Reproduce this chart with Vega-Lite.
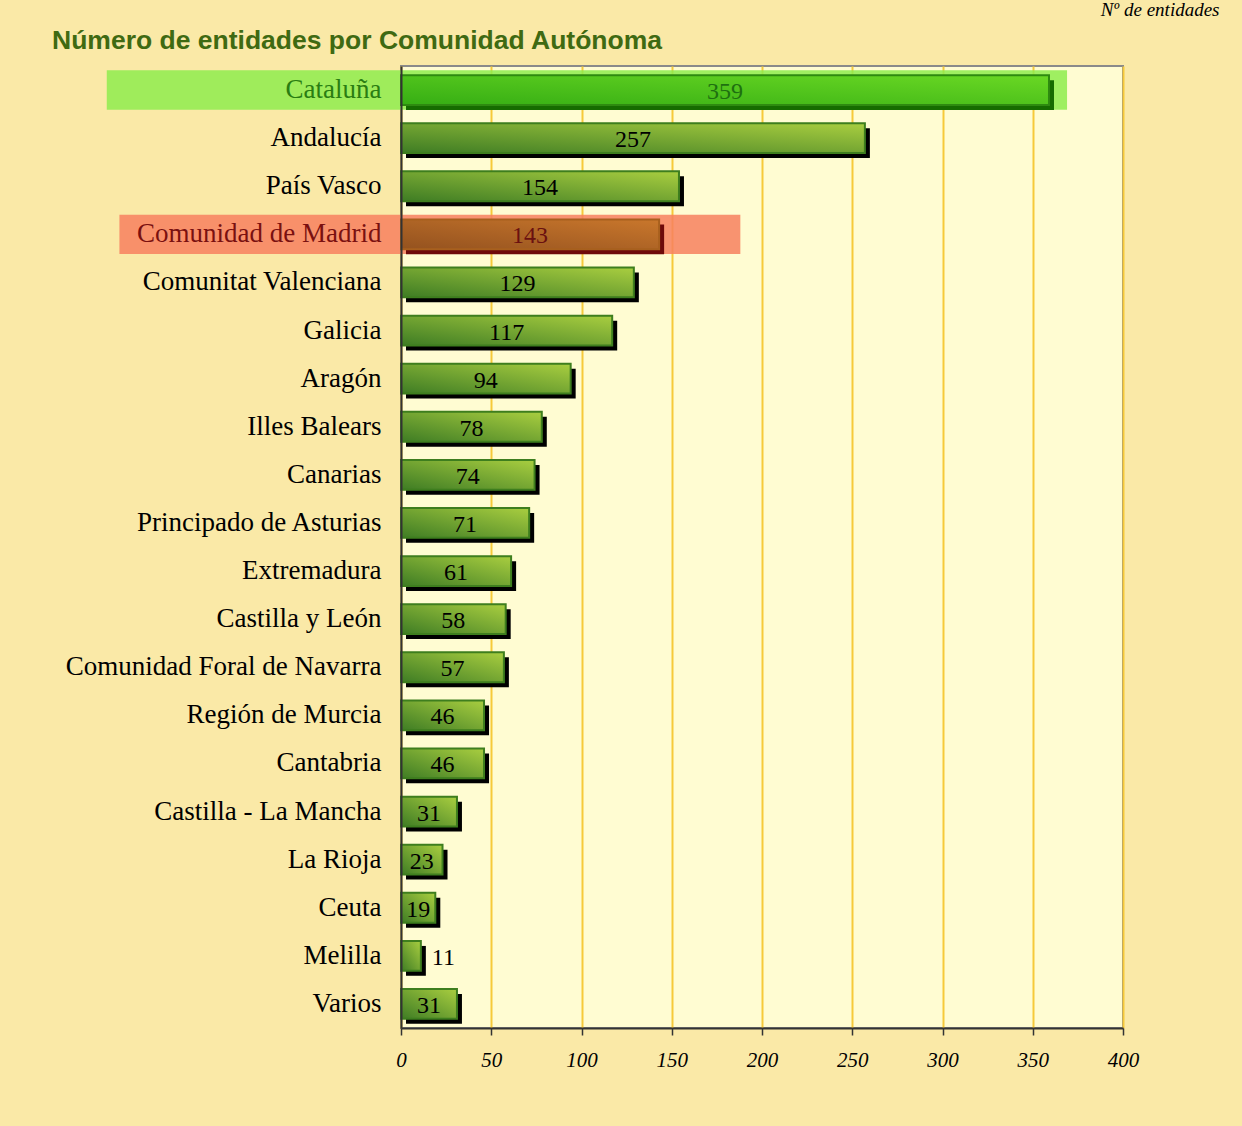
{
  "$schema": "https://vega.github.io/schema/vega-lite/v6.json",
  "autosize": {"type": "none"},
  "width": 722,
  "height": 962,
  "padding": {"left": 401, "top": 66, "right": 119, "bottom": 98},
  "background": "#fae9a7",
  "title": {
    "text": "Número de entidades por Comunidad Autónoma",
    "font": "Liberation Sans",
    "fontSize": 26.5,
    "fontWeight": "bold",
    "color": "#3f6a12",
    "anchor": "start",
    "frame": "group",
    "dx": -349,
    "dy": 93,
    "offset": 18,
    "baseline": "alphabetic"
  },
  "config": {
    "view": {"fill": "#fffcd2", "stroke": "#8a8a8a", "strokeWidth": 2},
    "axisX": {
      "labelFont": "Liberation Serif",
      "labelFontStyle": "italic",
      "labelFontSize": 21,
      "labelColor": "#000000",
      "labelPadding": 14,
      "labelFlush": false,
      "labelOverlap": false,
      "tickSize": 7,
      "tickColor": "#333333",
      "tickWidth": 1.5,
      "domainColor": "#333333",
      "domainWidth": 2,
      "grid": true,
      "gridColor": "#f6c93a",
      "gridWidth": 2,
      "gridOpacity": 1
    },
    "axisY": {
      "labelFont": "Liberation Serif",
      "labelFontSize": 27,
      "labelLimit": 0,
      "labelColor": {"expr": "datum.value === 'Cataluña' ? '#2a7d12' : datum.value === 'Comunidad de Madrid' ? '#7a1010' : '#000000'"},
      "labelPadding": 20,
      "ticks": false,
      "grid": false,
      "domainColor": "#333333",
      "domainWidth": 2,
      "titleFont": "Liberation Serif",
      "titleFontStyle": "italic",
      "titleFontWeight": "normal",
      "titleFontSize": 19,
      "titleColor": "#000000",
      "titleAngle": 0,
      "titleAlign": "right",
      "titleBaseline": "alphabetic",
      "titleX": 818,
      "titleY": -51
    }
  },
  "data": {
    "values": [
      {"name": "Cataluña", "value": 359},
      {"name": "Andalucía", "value": 257},
      {"name": "País Vasco", "value": 154},
      {"name": "Comunidad de Madrid", "value": 143},
      {"name": "Comunitat Valenciana", "value": 129},
      {"name": "Galicia", "value": 117},
      {"name": "Aragón", "value": 94},
      {"name": "Illes Balears", "value": 78},
      {"name": "Canarias", "value": 74},
      {"name": "Principado de Asturias", "value": 71},
      {"name": "Extremadura", "value": 61},
      {"name": "Castilla y León", "value": 58},
      {"name": "Comunidad Foral de Navarra", "value": 57},
      {"name": "Región de Murcia", "value": 46},
      {"name": "Cantabria", "value": 46},
      {"name": "Castilla - La Mancha", "value": 31},
      {"name": "La Rioja", "value": 23},
      {"name": "Ceuta", "value": 19},
      {"name": "Melilla", "value": 11},
      {"name": "Varios", "value": 31}
    ]
  },
  "encoding": {
    "y": {
      "field": "name",
      "type": "nominal",
      "sort": ["Cataluña", "Andalucía", "País Vasco", "Comunidad de Madrid", "Comunitat Valenciana", "Galicia", "Aragón", "Illes Balears", "Canarias", "Principado de Asturias", "Extremadura", "Castilla y León", "Comunidad Foral de Navarra", "Región de Murcia", "Cantabria", "Castilla - La Mancha", "La Rioja", "Ceuta", "Melilla", "Varios"],
      "scale": {"paddingInner": 0, "paddingOuter": 0},
      "title": "Nº de entidades",
      "axis": {"zindex": 2}
    }
  },
  "layer": [
    {
      "transform": [{"filter": "datum.name === 'Cataluña'"}],
      "mark": {"type": "bar", "height": {"band": 0.82}, "color": "#8eec4e", "opacity": 0.85},
      "encoding": {
        "x": {"datum": -163, "type": "quantitative", "scale": {"domain": [0, 400]}, "title": null, "axis": {"values": [0, 50, 100, 150, 200, 250, 300, 350, 400]}},
        "x2": {"datum": 369}
      }
    },
    {
      "transform": [{"filter": "datum.name === 'Comunidad de Madrid'"}],
      "mark": {"type": "bar", "height": {"band": 0.82}, "color": "#f7805f", "opacity": 0.85},
      "encoding": {
        "x": {"datum": -156, "type": "quantitative", "scale": {"domain": [0, 400]}, "title": null, "axis": {"values": [0, 50, 100, 150, 200, 250, 300, 350, 400]}},
        "x2": {"datum": 188}
      }
    },
    {
      "mark": {"type": "bar", "height": {"band": 0.62}, "xOffset": 5, "x2Offset": 5, "yOffset": 5, "y2Offset": 5},
      "encoding": {
        "x": {"field": "value", "type": "quantitative", "scale": {"domain": [0, 400]}, "title": null, "axis": {"values": [0, 50, 100, 150, 200, 250, 300, 350, 400]}},
        "color": {
          "condition": [
            {"test": "datum.name === 'Cataluña'", "value": "#166c00"},
            {"test": "datum.name === 'Comunidad de Madrid'", "value": "#6e0a0a"}
          ],
          "value": "#000000"
        }
      }
    },
    {
      "mark": {"type": "bar", "height": {"band": 0.62}, "strokeWidth": 2},
      "encoding": {
        "x": {"field": "value", "type": "quantitative", "scale": {"domain": [0, 400]}, "title": null, "axis": {"values": [0, 50, 100, 150, 200, 250, 300, 350, 400]}},
        "fill": {
          "condition": [
            {"test": "datum.name === 'Cataluña'", "value": {"gradient": "linear", "x1": 0, "y1": 1, "x2": 1, "y2": 0, "stops": [{"offset": 0, "color": "#36ae14"}, {"offset": 1, "color": "#6ad824"}]}},
            {"test": "datum.name === 'Comunidad de Madrid'", "value": {"gradient": "linear", "x1": 0, "y1": 1, "x2": 1, "y2": 0, "stops": [{"offset": 0, "color": "#94521f"}, {"offset": 1, "color": "#c9772c"}]}}
          ],
          "value": {"gradient": "linear", "x1": 0, "y1": 1, "x2": 1, "y2": 0, "stops": [{"offset": 0, "color": "#3e7c24"}, {"offset": 1, "color": "#a9ce40"}]}
        },
        "stroke": {
          "condition": [
            {"test": "datum.name === 'Cataluña'", "value": "#2e8a10"},
            {"test": "datum.name === 'Comunidad de Madrid'", "value": "#a8601e"}
          ],
          "value": "#3e7e1e"
        }
      }
    },
    {
      "transform": [
        {"filter": "datum.value >= 15"},
        {"calculate": "datum.value / 2", "as": "mid"}
      ],
      "mark": {"type": "text", "font": "Liberation Serif", "fontSize": 24, "align": "center", "baseline": "middle", "dy": 2},
      "encoding": {
        "x": {"field": "mid", "type": "quantitative", "scale": {"domain": [0, 400]}, "title": null, "axis": {"values": [0, 50, 100, 150, 200, 250, 300, 350, 400]}},
        "text": {"field": "value", "type": "quantitative"},
        "color": {
          "condition": [
            {"test": "datum.name === 'Cataluña'", "value": "#1e7010"},
            {"test": "datum.name === 'Comunidad de Madrid'", "value": "#6a1010"}
          ],
          "value": "#000000"
        }
      }
    },
    {
      "transform": [{"filter": "datum.value < 15"}],
      "mark": {"type": "text", "font": "Liberation Serif", "fontSize": 24, "align": "left", "baseline": "middle", "dx": 11, "dy": 2, "color": "#000000"},
      "encoding": {
        "x": {"field": "value", "type": "quantitative", "scale": {"domain": [0, 400]}, "title": null, "axis": {"values": [0, 50, 100, 150, 200, 250, 300, 350, 400]}},
        "text": {"field": "value", "type": "quantitative"}
      }
    }
  ]
}
